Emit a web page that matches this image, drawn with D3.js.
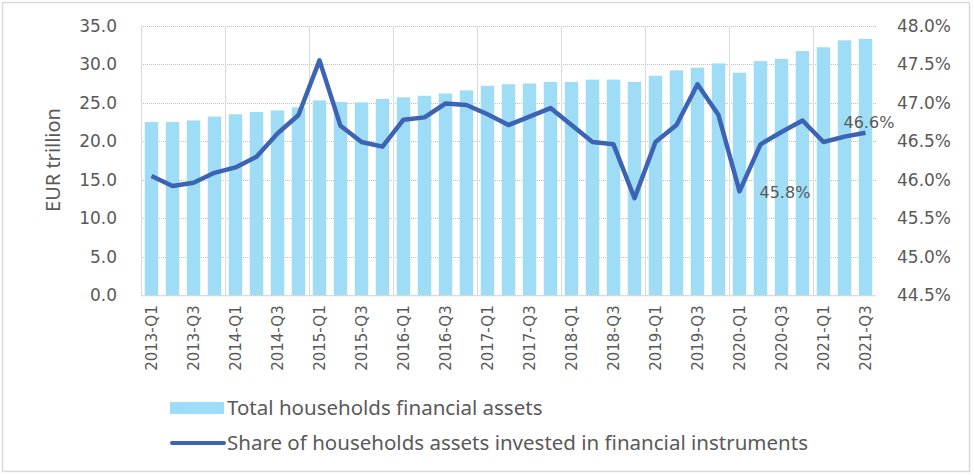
<!DOCTYPE html>
<html>
<head>
<meta charset="utf-8">
<script src="https://cdn.jsdelivr.net/npm/d3@7"></script>
<style>
  body { margin: 0; background: #fff; }
  svg { display: block; }
  text { fill: #595959; }
  .tick text, .num { font-family: "DejaVu Sans", Verdana, sans-serif; }
</style>
</head>
<body>
<svg id="chart" width="974" height="475"></svg>
<script>
// quarters 2013-Q1 .. 2021-Q3
const quarters = [];
for (let y = 2013; y <= 2021; y++) {
  for (let q = 1; q <= 4; q++) {
    if (y === 2021 && q > 3) break;
    quarters.push(y + "-Q" + q);
  }
}

// EUR trillion
const totalAssets = [
  22.5, 22.5, 22.7, 23.2, 23.5, 23.8, 24.0, 24.4,
  25.3, 25.1, 25.05, 25.5, 25.7, 25.9, 26.2, 26.6,
  27.2, 27.4, 27.5, 27.7, 27.7, 28.0, 28.0, 27.7,
  28.5, 29.2, 29.55, 30.1, 28.9, 30.4, 30.7, 31.7,
  32.2, 33.1, 33.3
];

// share, %
const shareInvested = [
  46.05, 45.92, 45.96, 46.09, 46.16, 46.30, 46.60, 46.84,
  47.55, 46.70, 46.49, 46.43, 46.78, 46.81, 46.99, 46.97,
  46.85, 46.71, 46.82, 46.93, 46.71, 46.49, 46.46, 45.76,
  46.49, 46.71, 47.24, 46.84, 45.85, 46.46, 46.62, 46.77,
  46.49, 46.56, 46.61
];

const leftTicks = [0, 5, 10, 15, 20, 25, 30, 35];
const rightTicks = [44.5, 45, 45.5, 46, 46.5, 47, 47.5, 48];
const labelled = [{ q: "2020-Q1", text: "45.8%", dx: 20, dy: 1 }, { q: "2021-Q3", text: "46.6%", dx: -22, dy: -10 }];

const legendItems = ["Total households financial assets", "Share of households assets invested in financial instruments"];

const svg = d3.select("#chart");
const barColor = "#9fdcf5";
const lineColor = "#3d64b4";

const plotLeft = 141, plotRight = 876, plotTop = 25.7, plotBottom = 295.3;

const x = d3.scaleBand().domain(quarters).range([plotLeft, plotRight]).paddingInner(0.36).paddingOuter(0.18);
const yL = d3.scaleLinear().domain([0, 35]).range([plotBottom, plotTop]);
const yR = d3.scaleLinear().domain([44.5, 48]).range([plotBottom, plotTop]);

// outer border
svg.append("rect").attr("x", 2.5).attr("y", 2.5).attr("width", 967).attr("height", 469)
  .attr("fill", "none").attr("stroke", "#d9d9d9").attr("stroke-width", 1.5);

// horizontal gridlines (dotted)
svg.append("g").selectAll("line").data(leftTicks).join("line")
  .attr("x1", plotLeft).attr("x2", plotRight)
  .attr("y1", d => Math.round(yL(d)) + 0.5).attr("y2", d => Math.round(yL(d)) + 0.5)
  .attr("stroke", "#bfbfbf").attr("stroke-dasharray", "1,1");

// vertical gridlines at each year start
const gap = x.step() - x.bandwidth();
const yearStarts = quarters.filter((q, i) => i % 4 === 0);
svg.append("g").selectAll("line").data(yearStarts).join("line")
  .attr("x1", q => Math.round(x(q) - gap / 2) + 0.5)
  .attr("x2", q => Math.round(x(q) - gap / 2) + 0.5)
  .attr("y1", plotTop).attr("y2", plotBottom)
  .attr("stroke", "#d9d9d9").attr("stroke-width", 1);

// bars
svg.append("g").selectAll("rect").data(totalAssets).join("rect")
  .attr("x", (d, i) => x(quarters[i]))
  .attr("width", x.bandwidth())
  .attr("y", d => yL(d))
  .attr("height", d => yL(0) - yL(d))
  .attr("fill", barColor);

// line
const line = d3.line()
  .x((d, i) => x(quarters[i]) + x.bandwidth() / 2)
  .y(d => yR(d));
svg.append("path").datum(shareInvested)
  .attr("d", line)
  .attr("fill", "none")
  .attr("stroke", lineColor)
  .attr("stroke-width", 4.5)
  .attr("stroke-linejoin", "round");

// data labels
svg.append("g").selectAll("text").data(labelled).join("text")
  .attr("class", "num")
  .attr("x", d => x(d.q) + x.bandwidth() / 2 + d.dx)
  .attr("y", d => yR(shareInvested[quarters.indexOf(d.q)]) + d.dy)
  .attr("dy", "0.35em")
  .attr("font-size", 16)
  .text(d => d.text);

// left axis
const axisL = svg.append("g").attr("transform", `translate(${plotLeft},0)`)
  .call(d3.axisLeft(yL).tickValues(leftTicks).tickFormat(d3.format(".1f")).tickSize(0).tickPadding(24));
axisL.select(".domain").remove();
axisL.selectAll("text").attr("font-size", 17).attr("fill", "#595959");

// right axis
const axisR = svg.append("g").attr("transform", `translate(${plotRight},0)`)
  .call(d3.axisRight(yR).tickValues(rightTicks).tickFormat(d => d3.format(".1f")(d) + "%").tickSize(0).tickPadding(21));
axisR.select(".domain").remove();
axisR.selectAll("text").attr("font-size", 17).attr("fill", "#595959");

// x axis baseline
svg.append("line").attr("x1", plotLeft).attr("x2", plotRight)
  .attr("y1", plotBottom + 0.5).attr("y2", plotBottom + 0.5).attr("stroke", "#d9d9d9");

// x labels, every other quarter
const xAxis = svg.append("g").attr("transform", `translate(0,${plotBottom})`)
  .call(d3.axisBottom(x).tickValues(quarters.filter((q, i) => i % 2 === 0)).tickSize(0));
xAxis.select(".domain").remove();
xAxis.selectAll("text")
  .attr("font-size", 15)
  .attr("fill", "#595959")
  .attr("transform", "rotate(-90)")
  .attr("text-anchor", "end")
  .attr("x", -10)
  .attr("y", 0)
  .attr("dy", "0.35em");

// y axis title
svg.append("text")
  .attr("transform", "translate(60,160) rotate(-90)")
  .attr("text-anchor", "middle")
  .attr("font-family", "Noto Sans, sans-serif")
  .attr("font-size", 20)
  .text("EUR trillion");

// legend
const lg = svg.append("g").attr("transform", "translate(170,0)");
lg.append("rect").attr("x", 0).attr("y", 402).attr("width", 54).attr("height", 12).attr("fill", barColor);
lg.append("line").attr("x1", 2).attr("x2", 54).attr("y1", 443).attr("y2", 443)
  .attr("stroke", lineColor).attr("stroke-width", 4).attr("stroke-linecap", "round");
lg.selectAll("text.lt").data(legendItems).join("text")
  .attr("class", "lt")
  .attr("x", 57)
  .attr("y", (d, i) => 408 + i * 35)
  .attr("dy", "0.35em")
  .attr("font-family", "Noto Sans, sans-serif")
  .attr("font-size", 20.5)
  .attr("fill", "#404040")
  .text(d => d);
</script>
</body>
</html>
